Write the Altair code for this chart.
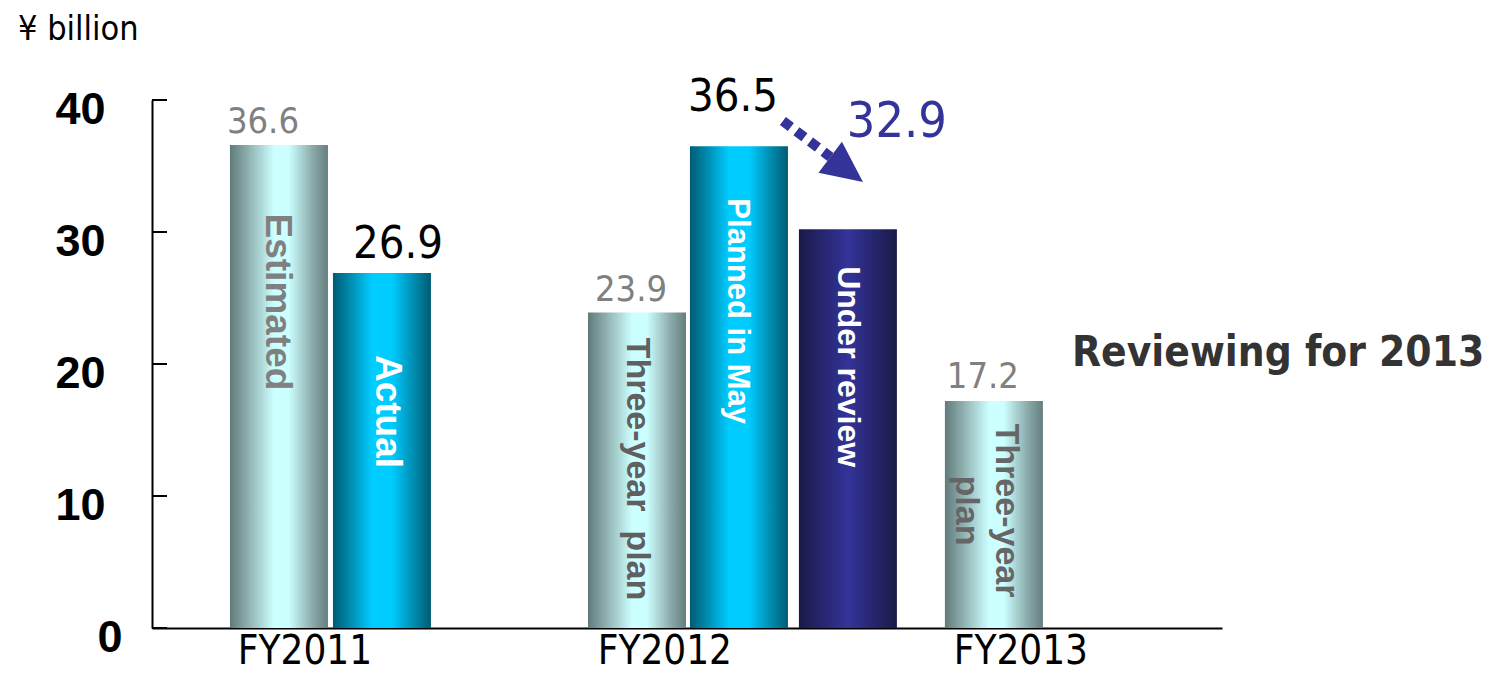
import altair as alt
import pandas as pd

# ---------------- data ----------------
bar_names = ["Estimated", "Actual", "Three-year\u00a0\u00a0plan", "Planned in May", "Under review", "Three-year\nplan"]
bar_kinds = ["plan", "result", "plan", "result", "review", "plan"]
bar_values = [36.6, 26.9, 23.9, 36.5, 30.2, 17.2]
value_texts = ["36.6", "26.9", "23.9", "36.5", "32.9", "17.2"]
bar_slots = [1.234, 2.235, 4.714, 5.705, 6.764, 8.183]
label_mids = [24.7, 16.4, 12.05, 24.0, 19.8, 8.9]
fiscal_years = ["FY2011", "FY2012", "FY2013"]
year_slots = [1.487, 4.985, 8.445]
y_ticks = [0, 10, 20, 30, 40]
arrow_x = [6.132, 6.594]
arrow_y = [38.41, 35.68]
arrow_head_x = [6.751]
arrow_head_y = [34.73]

W, H = 1070, 528
XS = alt.Scale(domain=[0, 10.4], nice=False, zero=False, padding=0)
YS = alt.Scale(domain=[0, 40], nice=False, zero=True, padding=0)
COND = "DejaVu Sans Condensed, DejaVu Sans"
NAVY = "#333399"

AX = alt.Axis(labels=False, ticks=False, grid=False, title=None,
              domainColor="black", domainWidth=2)
AY = alt.Axis(values=y_ticks, ticks=False, grid=False, title=None,
              domainColor="black", domainWidth=2,
              labelFont="Liberation Sans", labelFontWeight="bold",
              labelFontSize=45, labelColor="black",
              labelPadding={"condition": {"test": "datum.value === 0", "value": 30}, "value": 47},
              labelOffset=9)

bars_df = pd.DataFrame({
    "name": bar_names, "kind": bar_kinds, "value": bar_values,
    "vtext": value_texts, "slot": bar_slots, "mid": label_mids,
})
years_df = pd.DataFrame({"year": fiscal_years, "slot": year_slots})
ticks_df = pd.DataFrame({"value": y_ticks})
arrow_df = pd.DataFrame({"slot": arrow_x, "value": arrow_y})
head_df = pd.DataFrame({"slot": arrow_head_x, "value": arrow_head_y})
one = pd.DataFrame({"k": [0]})


def X(field="slot"):
    return alt.X(f"{field}:Q", scale=XS, axis=AX)


def Y(field="value"):
    return alt.Y(f"{field}:Q", scale=YS, axis=AY)


def grad(stops):
    return alt.Gradient(
        gradient="linear", x1=0, x2=1, y1=0, y2=0,
        stops=[alt.GradientStop(offset=o, color=c) for o, c in stops],
    )


gradients = {
    "plan": (grad([(0, "#607a7a"), (0.18, "#8eaeae"), (0.45, "#ccffff"), (0.6, "#ccffff"),
                   (0.85, "#8aa8a8"), (1, "#647e7e")]), 0),
    "result": (grad([(0, "#005c76"), (0.12, "#007c9c"), (0.4, "#00ccff"), (0.6, "#00ccff"),
                     (0.85, "#0085a6"), (1, "#005c74")]), 0),
    "review": (grad([(0, "#1a1a48"), (0.5, "#333399"), (1, "#1a1a48")]), 3),
}

layers = []

# bars
for kind, (g, y2off) in gradients.items():
    layers.append(
        alt.Chart(bars_df).transform_filter(alt.datum.kind == kind)
        .mark_bar(width=98, color=g, y2Offset=y2off)
        .encode(x=X(), y=Y())
    )

# inward ticks on the y axis
layers.append(
    alt.Chart(ticks_df).mark_rule(color="black", strokeWidth=2)
    .encode(y=Y(), x=alt.value(0), x2=alt.value(15))
)

# value labels
value_styles = [
    ("#808080", 36, -16, -12),
    ("black", 45, 16, -15),
    ("#808080", 36, -6, -12),
    ("black", 45, -6, -35),
    (NAVY, 50, 49, -92),
    ("#808080", 36, -11, -13),
]
for i, (col, fs, dx, dy) in enumerate(value_styles):
    layers.append(
        alt.Chart(bars_df.iloc[[i]])
        .mark_text(font=COND, fontSize=fs, color=col, dx=dx, dy=dy,
                   align="center", baseline="alphabetic")
        .encode(x=X(), y=Y(), text="vtext:N")
    )

# labels inside bars (rotated)
inner_styles = [
    ("#808080", 37, 2),
    ("white", 37, -5),
    ("#606060", 34, 0),
    ("white", 31, 2),
    ("white", 32, 0),
    ("#666666", 34, -12),
]
for i, (col, fs, dy) in enumerate(inner_styles):
    layers.append(
        alt.Chart(bars_df.iloc[[i]])
        .mark_text(font="Liberation Sans", fontWeight="bold", fontSize=fs, color=col,
                   angle=90, align="center", baseline="middle", dy=dy,
                   lineBreak="\n", lineHeight=40)
        .encode(x=X(), y=Y("mid"), text="name:N")
    )

# fiscal year labels
layers.append(
    alt.Chart(years_df).mark_text(font=COND, fontSize=40, color="black",
                                  align="center", baseline="alphabetic")
    .encode(x=X(), y=alt.value(H + 36), text="year:N")
)

# dotted arrow
layers.append(
    alt.Chart(arrow_df).mark_line(color=NAVY, strokeWidth=10, strokeDash=[10, 7], strokeCap="butt")
    .encode(x=X(), y=Y())
)
layers.append(
    alt.Chart(head_df).mark_point(shape="M0,-1L0.95,1L-0.95,1Z", size=1681, angle=127,
                                  filled=True, color=NAVY, opacity=1)
    .encode(x=X(), y=Y())
)

# annotations
layers.append(
    alt.Chart(one).mark_text(text="¥ billion", font=COND, fontSize=34, color="black",
                             align="left", baseline="alphabetic")
    .encode(x=alt.value(-134), y=alt.value(-60))
)
layers.append(
    alt.Chart(one).mark_text(text="Reviewing for 2013", font=COND, fontWeight="bold",
                             fontSize=42, color="#333333", align="left", baseline="alphabetic")
    .encode(x=alt.value(920), y=alt.value(266))
)

chart = alt.layer(*layers).properties(
    width=W, height=H,
    padding={"left": 144, "top": 92, "right": 271, "bottom": 46},
    autosize=alt.AutoSizeParams(type="none"),
).configure_view(stroke=None)

chart.save("out.html", embed_options={"renderer": "svg", "actions": False})
